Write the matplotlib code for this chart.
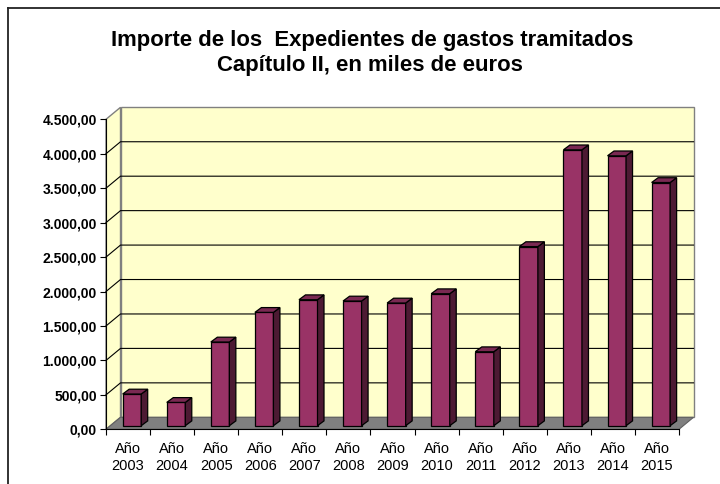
import matplotlib
matplotlib.use("Agg")
import matplotlib.pyplot as plt
from matplotlib.patches import Polygon
from matplotlib.lines import Line2D
import numpy as np

plt.rcParams["font.family"] = ["Liberation Sans", "DejaVu Sans"]

# data
years = ["2003", "2004", "2005", "2006", "2007", "2008", "2009",
         "2010", "2011", "2012", "2013", "2014", "2015"]
importes = [460, 338, 1215, 1645, 1829, 1810, 1781,
            1916, 1074, 2600, 4005, 3918, 3530]
y_ticks = [0, 500, 1000, 1500, 2000, 2500, 3000, 3500, 4000, 4500]
title_1 = "Importe de los  Expedientes de gastos tramitados"
title_2 = "Capítulo II, en miles de euros"

W, H = 720, 484
fig = plt.figure(figsize=(W / 100, H / 100), dpi=100)
fig.patch.set_facecolor("white")

# front plane of the 3d box (pixels)
x0, x1 = 106, 679
y0, y1 = 429.3, 119.3
ax = fig.add_axes([x0 / W, (H - y0) / H, (x1 - x0) / W, (y0 - y1) / H])
ax.set_xlim(-0.5, len(years) - 0.5)
ax.set_ylim(0, 4500)
ax.patch.set_alpha(0)

ppx = (x1 - x0) / len(years)   # px per category
ppy = (y0 - y1) / 4500          # px per unit

def off(dx_px, dy_px):
    return dx_px / ppx, dy_px / ppy

bx, by = off(14.5, 12)        # back wall
fx, fy = off(3.9, 3.6)        # bar front face plane
dx, dy = off(6.5, 4.8)        # bar depth

xa, xb = -0.5, len(years) - 0.5
wall = "#FFFFCC"
edge = "#808080"

# walls and floor
ax.add_patch(Polygon([(xa + bx, by), (xb + bx, by), (xb + bx, 4500 + by), (xa + bx, 4500 + by)],
                     closed=True, fc=wall, ec=edge, lw=1.0, zorder=0, clip_on=False))
ax.add_patch(Polygon([(xa, 0), (xa, 4500), (xa + bx, 4500 + by), (xa + bx, by)],
                     closed=True, fc=wall, ec=edge, lw=1.0, zorder=0, clip_on=False))
for t in y_ticks[1:-1]:
    ax.add_line(Line2D([xa, xa + bx, xb + bx], [t, t + by, t + by],
                       color="#000000", lw=0.8, zorder=1, clip_on=False))
ax.add_patch(Polygon([(xa, 0), (xb, 0), (xb + bx, by), (xa + bx, by)],
                     closed=True, fc="#808080", ec="#606060", lw=0.8, zorder=1, clip_on=False))

# bars
x = np.arange(len(years))
bw = 0.42
front = "#993366"
side = "#4D1A33"
top = "#7A2952"
ax.bar(x + fx, importes, width=bw, bottom=fy, color=front, edgecolor="black",
       lw=0.9, zorder=3, clip_on=False)
for xi, v in zip(x, importes):
    l = xi + fx - bw / 2
    r = xi + fx + bw / 2
    b = fy
    t = fy + v
    ax.add_patch(Polygon([(r, b), (r + dx, b + dy), (r + dx, t + dy), (r, t)],
                         closed=True, fc=side, ec="black", lw=0.9, zorder=3, clip_on=False))
    ax.add_patch(Polygon([(l, t), (r, t), (r + dx, t + dy), (l + dx, t + dy)],
                         closed=True, fc=top, ec="black", lw=0.9, zorder=3, clip_on=False))

# axes
for s in ["top", "right"]:
    ax.spines[s].set_visible(False)
ax.spines["left"].set_color("black")
ax.spines["bottom"].set_color("black")
ax.spines["left"].set_zorder(5)
ax.spines["bottom"].set_zorder(5)

def fmt_es(v):
    return f"{v:,.2f}".replace(",", "X").replace(".", ",").replace("X", ".")

ax.set_yticks(y_ticks)
ax.set_yticklabels([fmt_es(v) for v in y_ticks], fontsize=10, fontweight="bold")
ax.tick_params(axis="y", direction="out", length=4, width=0.8, pad=2.5)

ax.set_xticks(np.arange(len(years) + 1) - 0.5)
ax.set_xticklabels([])
ax.tick_params(axis="x", which="major", direction="out", length=4.5, width=0.8)
ax.set_xticks(x, minor=True)
ax.set_xticklabels(["Año\n" + y for y in years], minor=True, fontsize=10.5,
                   linespacing=1.25)
ax.tick_params(axis="x", which="minor", length=0, pad=9)

# title
fig.text(372 / W, 1 - 46 / H, title_1, ha="center", va="baseline",
         fontsize=15.9, fontweight="bold")
fig.text(370 / W, 1 - 70.5 / H, title_2, ha="center", va="baseline",
         fontsize=15.9, fontweight="bold")

# outer frame (only left and top edges inside the picture)
fig.add_artist(Line2D([8 / W, 8 / W], [0, 1 - 8 / H], color="#222222", lw=1.3,
                      transform=fig.transFigure))
fig.add_artist(Line2D([8 / W, 1], [1 - 8 / H, 1 - 8 / H], color="#222222", lw=1.3,
                      transform=fig.transFigure))

fig.savefig("out.png", dpi=100)
